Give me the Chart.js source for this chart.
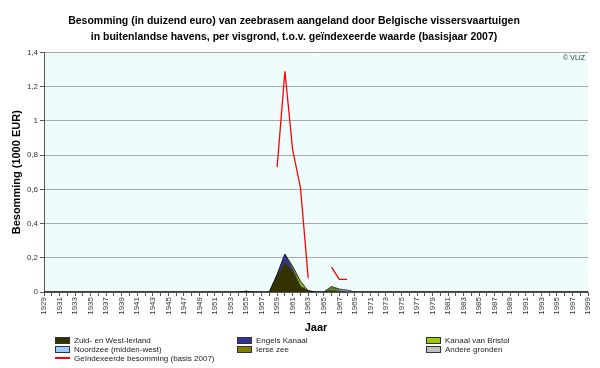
<!DOCTYPE html>
<html>
<head>
<meta charset="utf-8">
<script src="https://cdn.jsdelivr.net/npm/chart.js@4.4.1/dist/chart.umd.min.js"></script>
<style>
  html, body { margin: 0; padding: 0; background: #fff; }
  #wrap { position: relative; width: 600px; height: 368px; }
  #chart { position: absolute; left: 0; top: 0; }
  .lg { position: absolute; font: 8px "Liberation Sans", Arial, sans-serif; color: #222; white-space: nowrap; line-height: 9px; }
  .sw { position: absolute; width: 13px; height: 5px; border: 1px solid #333; }
  .ln { position: absolute; width: 15px; height: 2px; background: #ff0000; }
</style>
</head>
<body>
<div id="wrap">
  <canvas id="chart" width="600" height="368"></canvas>
</div>
<script>
/*
 * Besomming zeebrasem - buitenlandse havens, per visgrond
 * data, 1929 - 1999
 */
const jaren = [
    '1929','1930','1931','1932','1933','1934','1935','1936','1937','1938',
    '1939','1940','1941','1942','1943','1944','1945','1946','1947','1948',
    '1949','1950','1951','1952','1953','1954','1955','1956','1957','1958',
    '1959','1960','1961','1962','1963','1964','1965','1966','1967','1968',
    '1969','1970','1971','1972','1973','1974','1975','1976','1977','1978',
    '1979','1980','1981','1982','1983','1984','1985','1986','1987','1988',
    '1989','1990','1991','1992','1993','1994','1995','1996','1997','1998',
    '1999'
];

// visgronden (gestapeld), 1000 EUR
const zuidWestIerland = [
    0,0,0,0,0,0,0,0,0,0,
    0,0,0,0,0,0,0,0,0,0,
    0,0,0,0,0,0,0.004,0,0,0,
    0.095,0.175,0.12,0.03,0.006,0,0,0.008,0.003,0,
    0,0,0,0,0,0,0,0,0,0,
    0,0,0,0,0,0,0,0,0,0,
    0,0,0,0,0,0,0,0,0,0,
    0
];
const engelsKanaal = [
    0,0,0,0,0,0,0,0,0,0,
    0,0,0,0,0,0,0,0,0,0,
    0,0,0,0,0,0,0,0,0,0,
    0.006,0.045,0.015,0.005,0,0,0,0,0,0,
    0,0,0,0,0,0,0,0,0,0,
    0,0,0,0,0,0,0,0,0,0,
    0,0,0,0,0,0,0,0,0,0,
    0
];
const kanaalBristol = [
    0,0,0,0,0,0,0,0,0,0,
    0,0,0,0,0,0,0,0,0,0,
    0,0,0,0,0,0,0,0,0,0,
    0,0,0.012,0.025,0,0,0,0.01,0.004,0,
    0,0,0,0,0,0,0,0,0,0,
    0,0,0,0,0,0,0,0,0,0,
    0,0,0,0,0,0,0,0,0,0,
    0
];
const noordzee = [
    0,0,0,0,0,0,0,0,0,0,
    0,0,0,0,0,0,0,0,0,0,
    0,0,0,0,0,0,0,0,0,0,
    0,0,0,0,0,0,0,0.002,0.008,0.01,
    0,0,0,0,0,0,0,0,0,0,
    0,0,0,0,0,0,0,0,0,0,
    0,0,0,0,0,0,0,0,0,0,
    0
];
const ierseZee = [
    0,0,0,0,0,0,0,0,0,0,
    0,0,0,0,0,0,0,0,0,0,
    0,0,0,0,0,0,0,0,0,0,
    0,0,0.003,0.002,0,0,0,0.012,0.002,0,
    0,0,0,0,0,0,0,0,0,0,
    0,0,0,0,0,0,0,0,0,0,
    0,0,0,0,0,0,0,0,0,0,
    0
];
const andereGronden = [
    0,0,0,0,0,0,0,0,0,0,
    0,0,0,0,0,0,0,0,0,0,
    0,0,0,0,0,0,0,0,0,0,
    0,0,0,0,0,0,0,0,0,0,
    0,0,0,0,0,0,0,0,0,0,
    0,0,0,0,0,0,0,0,0,0,
    0,0,0,0,0,0,0,0,0,0,
    0
];
// geindexeerde besomming (basis 2007)
const geindexeerd = [
    null,null,null,null,null,null,null,null,null,null,
    null,null,null,null,null,null,null,null,null,null,
    null,null,null,null,null,null,null,null,null,null,
    0.73,1.29,0.83,0.61,0.08,null,null,0.145,0.074,0.074,
    null,null,null,null,null,null,null,null,null,null,
    null,null,null,null,null,null,null,null,null,null,
    null,null,null,null,null,null,null,null,null,null,
    null
];

const yTicks = ['0','0,2','0,4','0,6','0,8','1','1,2','1,4'];

const visgronden = [
    { label: 'Zuid- en West-Ierland', data: zuidWestIerland, color: '#333300' },
    { label: 'Engels Kanaal', data: engelsKanaal, color: '#333399' },
    { label: 'Kanaal van Bristol', data: kanaalBristol, color: '#99cc00' },
    { label: 'Noordzee (midden-west)', data: noordzee, color: '#99ccff' },
    { label: 'Ierse zee', data: ierseZee, color: '#808000' },
    { label: 'Andere gronden', data: andereGronden, color: '#c0c0c0' }
];

const datasets = visgronden.map((v, i) => ({
    label: v.label,
    data: v.data,
    backgroundColor: v.color,
    borderColor: 'rgba(20,20,20,0.8)',
    borderWidth: 0.6,
    pointRadius: 0,
    tension: 0,
    fill: i === 0 ? 'origin' : '-1',
    yAxisID: 'y'
}));
datasets.push({
    label: 'Geïndexeerde besomming (basis 2007)',
    data: geindexeerd,
    borderColor: '#ff0000',
    backgroundColor: '#ff0000',
    borderWidth: 1.3,
    pointRadius: 0,
    tension: 0,
    fill: false,
    spanGaps: false,
    yAxisID: 'y2'
});

// achtergrond plotgebied + copyright
const plotBg = {
    id: 'plotBg',
    beforeDraw(chart) {
        const { ctx, chartArea: a } = chart;
        ctx.save();
        ctx.fillStyle = '#effcfc';
        ctx.fillRect(a.left, a.top, a.right - a.left, a.bottom - a.top);
        ctx.restore();
    },
    afterDraw(chart) {
        const { ctx, chartArea: a } = chart;
        ctx.save();
        ctx.font = '7px "Liberation Sans", Arial, sans-serif';
        ctx.fillStyle = '#333';
        ctx.textAlign = 'right';
        ctx.textBaseline = 'middle';
        ctx.fillText('© VLIZ', a.right - 3, a.top + 6);
        ctx.restore();
    }
};

const chart = new Chart(document.getElementById('chart'), {
    type: 'line',
    data: { labels: jaren, datasets: datasets },
    options: {
        responsive: false,
        animation: false,
        layout: { padding: { left: 0, right: 12, top: 0, bottom: 33 } },
        plugins: {
            legend: { display: false },
            tooltip: { enabled: false },
            title: {
                display: true,
                text: [
                    'Besomming (in duizend euro) van zeebrasem aangeland door Belgische vissersvaartuigen',
                    'in buitenlandse havens, per visgrond, t.o.v. geïndexeerde waarde (basisjaar 2007)'
                ],
                color: '#000',
                font: { family: '"Liberation Sans", Arial, sans-serif', size: 10.5, weight: 'bold', lineHeight: 1.5 },
                padding: { top: 13, bottom: 8 }
            }
        },
        scales: {
            x: {
                type: 'category',
                offset: false,
                afterFit: s => { s.height = 43; },
                grid: { display: true, drawOnChartArea: false, drawTicks: true, tickLength: 4, color: '#555' },
                border: { color: '#555' },
                ticks: {
                    autoSkip: false,
                    maxRotation: 90,
                    minRotation: 90,
                    padding: 1,
                    color: '#333',
                    font: { family: '"Liberation Sans", Arial, sans-serif', size: 8 },
                    callback: (v, i) => (i % 2 === 0 ? jaren[i] : '')
                },
                title: {
                    display: true,
                    text: 'Jaar',
                    color: '#000',
                    font: { family: '"Liberation Sans", Arial, sans-serif', size: 11, weight: 'bold' },
                    padding: { top: 0, bottom: 0 }
                }
            },
            y: {
                stacked: true,
                min: 0,
                max: 1.4,
                afterFit: s => { s.width = 44; },
                grid: { color: '#a8a8a8', tickColor: '#555', tickLength: 4 },
                border: { color: '#555' },
                ticks: {
                    stepSize: 0.2,
                    padding: 2,
                    color: '#333',
                    font: { family: '"Liberation Sans", Arial, sans-serif', size: 8 },
                    callback: (v, i) => yTicks[i]
                },
                title: {
                    display: true,
                    text: 'Besomming (1000 EUR)',
                    color: '#000',
                    font: { family: '"Liberation Sans", Arial, sans-serif', size: 11, weight: 'bold' },
                    padding: { top: 10, bottom: 4 }
                }
            },
            y2: { display: false, min: 0, max: 1.4 }
        }
    },
    plugins: [plotBg]
});

// legenda in drie kolommen, zoals het origineel
const wrap = document.getElementById('wrap');
const legX = [55, 237, 426];
const legY = [340, 349, 358];
chart.data.datasets.forEach((ds, i) => {
    const col = i < 6 ? i % 3 : 0;
    const row = i < 6 ? Math.floor(i / 3) : 2;
    const mark = document.createElement('div');
    if (i < 6) {
        mark.className = 'sw';
        mark.style.background = ds.backgroundColor;
        mark.style.left = legX[col] + 'px';
        mark.style.top = (legY[row] - 3.5) + 'px';
    } else {
        mark.className = 'ln';
        mark.style.left = legX[col] + 'px';
        mark.style.top = (legY[row] - 1) + 'px';
    }
    wrap.appendChild(mark);
    const txt = document.createElement('div');
    txt.className = 'lg';
    txt.textContent = ds.label;
    txt.style.left = (legX[col] + 19) + 'px';
    txt.style.top = (legY[row] - 4.5) + 'px';
    wrap.appendChild(txt);
});
</script>
</body>
</html>
